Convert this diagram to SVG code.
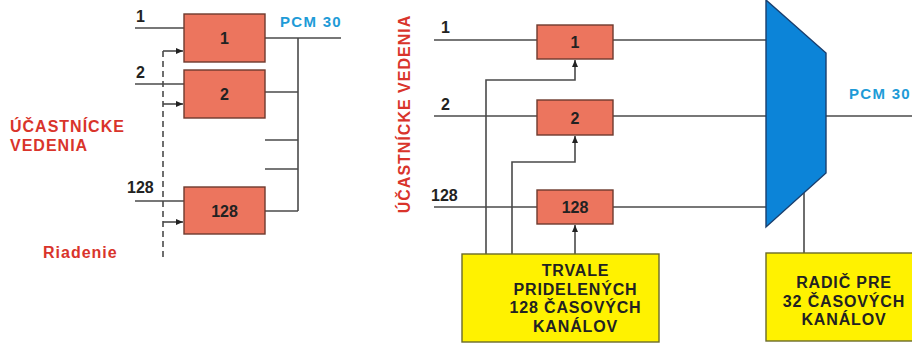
<svg xmlns="http://www.w3.org/2000/svg" width="912" height="343" viewBox="0 0 912 343">
<defs>
<style>
.ln{stroke:#4a4a4a;stroke-width:1.6;fill:none}
.dash{stroke:#4a4a4a;stroke-width:1.6;fill:none;stroke-dasharray:6,4}
.box{fill:#EC755E;stroke:#6e3a2e;stroke-width:1.4}
.ybox{fill:#FFF200;stroke:#6b6b2a;stroke-width:1.4}
.t{font-family:"Liberation Sans",Arial,sans-serif;font-weight:bold;font-size:16px;fill:#222}
.tw{font-family:"Liberation Sans",Arial,sans-serif;font-weight:bold;font-size:16px;fill:#222;letter-spacing:0.85px}
.red{font-family:"Liberation Sans",Arial,sans-serif;font-weight:bold;font-size:16px;fill:#D9342B;letter-spacing:1px}
.blue{font-family:"Liberation Sans",Arial,sans-serif;font-weight:bold;font-size:15px;fill:#1E9BD7;letter-spacing:1.3px}
</style>
<marker id="ah" markerWidth="8" markerHeight="8" refX="7" refY="4" orient="auto" markerUnits="userSpaceOnUse">
<path d="M0,1 L7,4 L0,7 Z" fill="#222"/>
</marker>
</defs>
<rect width="912" height="343" fill="#fff"/>

<g id="connectors">
<line class="ln" x1="135" y1="28" x2="184" y2="28"/>
<line class="ln" x1="135" y1="84" x2="184" y2="84"/>
<line class="ln" x1="135" y1="201" x2="184" y2="201"/>
<line class="dash" x1="163" y1="51" x2="163" y2="258"/>
<line class="ln" x1="163" y1="51" x2="183" y2="51" marker-end="url(#ah)"/>
<line class="ln" x1="163" y1="104" x2="183" y2="104" marker-end="url(#ah)"/>
<line class="ln" x1="163" y1="222" x2="183" y2="222" marker-end="url(#ah)"/>
<line class="ln" x1="265" y1="38" x2="341" y2="38"/>
<line class="ln" x1="298" y1="38" x2="298" y2="211"/>
<line class="ln" x1="265" y1="92" x2="298" y2="92"/>
<line class="ln" x1="265" y1="140" x2="298" y2="140"/>
<line class="ln" x1="265" y1="169" x2="298" y2="169"/>
<line class="ln" x1="265" y1="211" x2="298" y2="211"/>
<line class="ln" x1="434" y1="40" x2="537" y2="40"/>
<line class="ln" x1="434" y1="116" x2="537" y2="116"/>
<line class="ln" x1="434" y1="207" x2="537" y2="207"/>
<line class="ln" x1="613" y1="40" x2="766" y2="40"/>
<line class="ln" x1="613" y1="116" x2="766" y2="116"/>
<line class="ln" x1="613" y1="207" x2="766" y2="207"/>
<polyline class="ln" points="486,254 486,80 575,80 575,60" marker-end="url(#ah)"/>
<polyline class="ln" points="512,254 512,162 575,162 575,136" marker-end="url(#ah)"/>
<line class="ln" x1="575" y1="254" x2="575" y2="225" marker-end="url(#ah)"/>
<line class="ln" x1="826" y1="116" x2="912" y2="116"/>
<line class="ln" x1="804" y1="193" x2="804" y2="253"/>
</g>

<g id="left-box-1"><rect class="box" x="184" y="14" width="81" height="48"/><text class="t" x="224.5" y="44" text-anchor="middle">1</text></g>
<g id="left-box-2"><rect class="box" x="184" y="70" width="81" height="48"/><text class="t" x="224.5" y="100" text-anchor="middle">2</text></g>
<g id="left-box-128"><rect class="box" x="184" y="187" width="81" height="47"/><text class="t" x="224.5" y="216.5" text-anchor="middle">128</text></g>

<g id="left-labels">
<text class="t" x="136" y="22">1</text>
<text class="t" x="136" y="78">2</text>
<text class="t" x="127" y="193">128</text>
<text class="blue" x="280" y="27">PCM 30</text>
<text class="red" x="10" y="132">ÚČASTNÍCKE</text>
<text class="red" x="10" y="151">VEDENIA</text>
<text class="red" x="43" y="258">Riadenie</text>
</g>

<g id="right-box-1"><rect class="box" x="537" y="25" width="76" height="34"/><text class="t" x="575" y="48" text-anchor="middle">1</text></g>
<g id="right-box-2"><rect class="box" x="537" y="100" width="76" height="35"/><text class="t" x="575" y="123.5" text-anchor="middle">2</text></g>
<g id="right-box-128"><rect class="box" x="537" y="190" width="76" height="34"/><text class="t" x="575" y="213" text-anchor="middle">128</text></g>

<g id="mux"><polygon points="766,0 826,53 826,173 766,227" fill="#0C84D8" stroke="#1a3f6e" stroke-width="1.4"/></g>

<g id="trvale"><rect class="ybox" x="462" y="254" width="197" height="88"/>
<text class="tw" x="575.5" y="276" text-anchor="middle">TRVALE</text>
<text class="tw" x="575.5" y="294.5" text-anchor="middle">PRIDELENÝCH</text>
<text class="tw" x="575.5" y="313" text-anchor="middle">128 ČASOVÝCH</text>
<text class="tw" x="575.5" y="331.5" text-anchor="middle">KANÁLOV</text>
</g>

<g id="radic"><rect class="ybox" x="766" y="253" width="150" height="88"/>
<text class="tw" x="844" y="288" text-anchor="middle">RADIČ PRE</text>
<text class="tw" x="844" y="307" text-anchor="middle">32 ČASOVÝCH</text>
<text class="tw" x="844" y="325" text-anchor="middle">KANÁLOV</text>
</g>

<g id="right-labels">
<text class="t" x="441" y="33">1</text>
<text class="t" x="441" y="110">2</text>
<text class="t" x="431" y="201">128</text>
<text class="blue" x="849" y="99">PCM 30</text>
<text class="red" transform="translate(410,114) rotate(-90)" text-anchor="middle">ÚČASTNÍCKE VEDENIA</text>
</g>
</svg>
